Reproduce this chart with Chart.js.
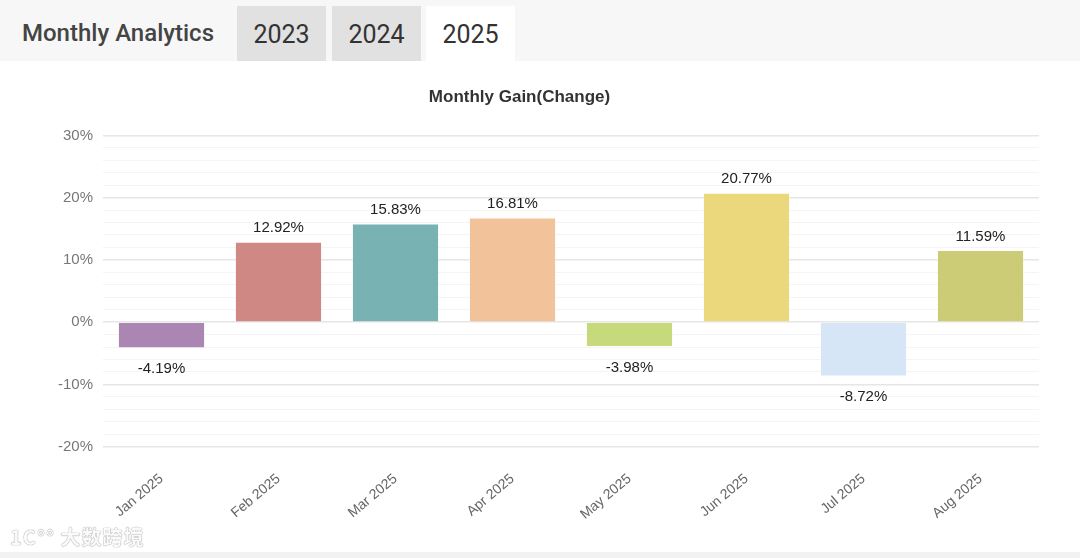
<!DOCTYPE html>
<html>
<head>
<meta charset="utf-8">
<script src="https://cdn.jsdelivr.net/npm/chart.js@4"></script>
<style>
  html, body { margin: 0; padding: 0; background: #fff; }
  body { width: 1080px; height: 558px; overflow: hidden; position: relative; font-family: Roboto, "Liberation Sans", sans-serif; }
  .head { position: absolute; left: 0; top: 0; width: 1080px; height: 61px; background: #f7f7f7; }
  .head .title { position: absolute; left: 22px; top: 19px; font-size: 24px; color: #444; font-weight: 500; }
  .tab { position: absolute; top: 6px; height: 55px; width: 89px; line-height: 57px; text-align: center; font-size: 25px; color: #333; background: #e1e1e1; }
  .tab.on { background: #fff; }
  .wrap { position: absolute; left: 0; top: 62px; width: 1080px; height: 490px; }
  .foot { position: absolute; left: 0; top: 552px; width: 1080px; height: 6px; background: #f2f2f2; }
  .mark { position: absolute; left: 10px; top: 522px; font-family: "Noto Sans CJK SC", sans-serif; font-size: 20px; font-weight: bold; color: #fafafa; text-shadow: 0 0 1px #999, 0 0 1px #999; letter-spacing: 1px; }
</style>
</head>
<body>
<div class="head">
  <div class="title">Monthly Analytics</div>
  <div class="tab" style="left:237px">2023</div>
  <div class="tab" style="left:332px">2024</div>
  <div class="tab on" style="left:426px">2025</div>
</div>
<div class="wrap"><canvas id="gainChart"></canvas></div>
<div class="mark">1C°° 大数跨境</div>
<div class="foot"></div>
<script>
const months = ['Jan 2025', 'Feb 2025', 'Mar 2025', 'Apr 2025', 'May 2025', 'Jun 2025', 'Jul 2025', 'Aug 2025'];
const gains = [-4.19, 12.92, 15.83, 16.81, -3.98, 20.77, -8.72, 11.59];
const barColors = ['#ab86b3', '#cf8884', '#78b2b2', '#f2c39b', '#c6da7c', '#ecd87c', '#d6e6f6', '#cdcc76'];
const yTicks = [-20, -10, 0, 10, 20, 30];

// value labels above / below each bar
const valueLabels = {
  id: 'valueLabels',
  afterDatasetsDraw(chart) {
    const ctx = chart.ctx;
    const meta = chart.getDatasetMeta(0);
    ctx.save();
    ctx.font = '15px "Liberation Sans", Arial, sans-serif';
    ctx.fillStyle = '#222';
    ctx.textAlign = 'center';
    meta.data.forEach((bar, i) => {
      const v = gains[i];
      if (v >= 0) {
        ctx.textBaseline = 'bottom';
        ctx.fillText(v.toFixed(2) + '%', bar.x, bar.y - 6);
      } else {
        ctx.textBaseline = 'top';
        ctx.fillText(v.toFixed(2) + '%', bar.x, bar.y + 13);
      }
    });
    ctx.restore();
  }
};

const ctx1 = document.getElementById('gainChart');
new Chart(ctx1, {
  type: 'bar',
  data: {
    labels: months,
    datasets: [{
      data: gains,
      backgroundColor: barColors,
      borderColor: 'rgba(255,255,255,0.35)',
      borderWidth: 1,
      barPercentage: 0.745,
      categoryPercentage: 1
    }]
  },
  plugins: [valueLabels],
  options: {
    responsive: true,
    maintainAspectRatio: false,
    animation: false,
    layout: { padding: { left: 0, right: 41, top: 0, bottom: 13 } },
    plugins: {
      legend: { display: false },
      tooltip: { enabled: false },
      title: {
        display: true,
        text: 'Monthly Gain(Change)',
        color: '#333',
        font: { family: '"Liberation Sans", Arial, sans-serif', size: 17, weight: 'bold' },
        padding: { top: 25, bottom: 28 }
      }
    },
    scales: {
      x: {
        grid: { display: false },
        border: { display: false },
        ticks: {
          color: '#666',
          font: { family: '"Liberation Sans", Arial, sans-serif', size: 14 },
          maxRotation: 40,
          minRotation: 40,
          padding: 16
        }
      },
      y: {
        min: yTicks[0],
        max: yTicks[yTicks.length - 1],
        border: { display: false },
        afterFit: s => { s.width = 103; },
        grid: {
          drawTicks: false,
          color: c => (c.tick && c.tick.value % 10 === 0) ? '#e6e6e6' : '#f4f4f4',
          lineWidth: c => (c.tick && c.tick.value % 10 === 0) ? 1.5 : 1
        },
        ticks: {
          stepSize: 2,
          autoSkip: false,
          padding: 10,
          color: '#777',
          font: { family: '"Liberation Sans", Arial, sans-serif', size: 15 },
          callback: v => yTicks.includes(v) ? v + '%' : ''
        }
      }
    }
  }
});
</script>
</body>
</html>
